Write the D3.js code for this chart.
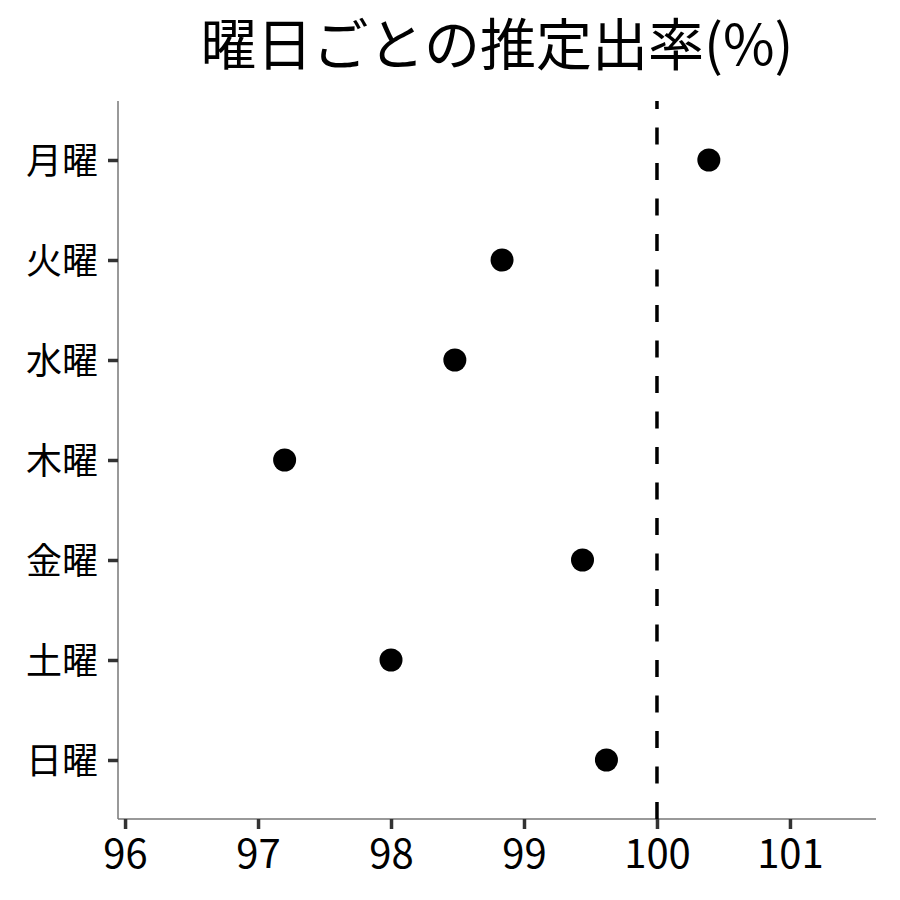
<!DOCTYPE html>
<html><head><meta charset="utf-8">
<script src="https://cdn.jsdelivr.net/npm/d3@7"></script>
<style>body{margin:0;background:#fff}svg{display:block}text{font-family:"Noto Sans CJK JP","Noto Sans",sans-serif}</style>
</head><body><svg id="c" width="900" height="900"></svg>
<script>
const days = ["月曜","火曜","水曜","木曜","金曜","土曜","日曜"];
const rates = [100.39, 98.835, 98.48, 97.20, 99.44, 98.00, 99.62];
const xTicks = [96, 97, 98, 99, 100, 101];
const refValue = 100;
const title = "曜日ごとの推定出率(%)";

const svg = d3.select("#c");
const L = 118, R = 876, T = 101, B = 819;
const x = d3.scaleLinear().domain([95.947, 101.647]).range([L, R]);
const y = d3.scalePoint().domain(days).range([160, 760]);

svg.append("text").attr("x", (L + R) / 2).attr("y", 44)
  .attr("text-anchor", "middle").attr("dy", "0.37em")
  .attr("font-size", 56).attr("fill", "#000").text(title);

// x axis
const xa = svg.append("g").attr("transform", `translate(0,${B})`)
  .call(d3.axisBottom(x).tickValues(xTicks).tickSize(10).tickPadding(8).tickFormat(d3.format("d")));
xa.select(".domain").attr("stroke", "#777").attr("stroke-width", 1.5).attr("d", `M${L},0H${R}`);
xa.selectAll(".tick line").attr("stroke", "#333").attr("stroke-width", 3.5);
xa.selectAll(".tick text").attr("fill", "#000").attr("font-size", 40).attr("dy", null)
  .attr("y", 49);

// y axis
const ya = svg.append("g").attr("transform", `translate(${L},0)`)
  .call(d3.axisLeft(y).tickSize(10).tickPadding(10));
ya.select(".domain").attr("stroke", "#777").attr("stroke-width", 1.5).attr("d", `M0,${T}V${B}`);
ya.selectAll(".tick line").attr("stroke", "#333").attr("stroke-width", 3.5);
ya.selectAll(".tick text").attr("fill", "#000").attr("font-size", 36)
  .attr("dy", "0.37em");

// reference line
svg.append("path")
  .attr("d", `M${x(refValue)},${B}V${T}`)
  .attr("stroke", "#000").attr("stroke-width", 3.5)
  .attr("stroke-dasharray", "17 18.5").attr("fill", "none");

// points
svg.append("g").selectAll("circle").data(days).join("circle")
  .attr("cx", (d, i) => x(rates[i])).attr("cy", d => y(d))
  .attr("r", 11.5).attr("fill", "#000");
</script></body></html>
